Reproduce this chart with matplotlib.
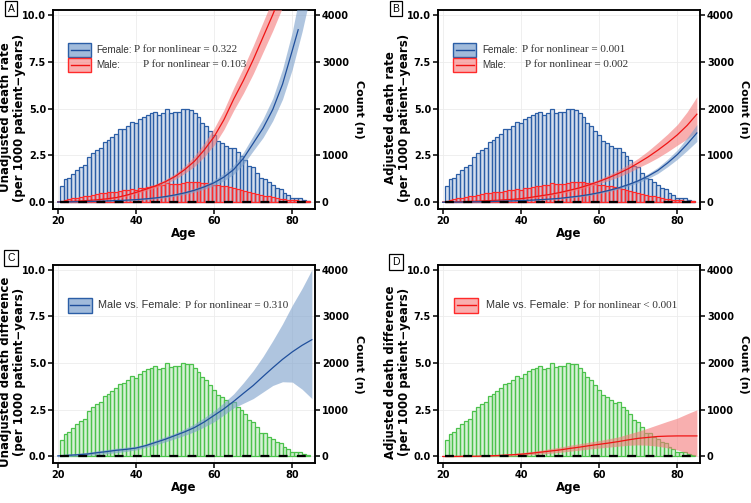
import numpy as np
import matplotlib
matplotlib.use('Agg')
import matplotlib.pyplot as plt
from matplotlib.patches import Rectangle
from matplotlib.lines import Line2D

plt.rcParams['font.family'] = ['DejaVu Sans']

# ---- histogram data (bars at ages 21..84) ----
bar_ages = list(range(21, 85))
count_all = [360, 490, 530, 600, 690, 750, 800, 970, 1050, 1120,
             1160, 1290, 1330, 1400, 1460, 1560, 1565, 1630, 1715, 1690,
             1770, 1830, 1865, 1900, 1930, 1870, 1895, 2000, 1915, 1930,
             1930, 2000, 1985, 1970, 1900, 1810, 1700, 1630, 1525, 1430,
             1310, 1275, 1205, 1150, 1160, 1065, 995, 900, 780, 745,
             625, 510, 495, 425, 375, 310, 285, 200, 155, 100,
             85, 85, 57, 28]
count_male = [35, 57, 70, 85, 100, 110, 140, 130, 163, 175,
              200, 200, 213, 220, 228, 248, 255, 270, 285, 270,
              305, 305, 320, 340, 340, 370, 370, 410, 397, 397,
              400, 411, 425, 440, 430, 425, 420, 411, 390, 369,
              362, 355, 340, 326, 305, 284, 270, 234, 215, 199,
              180, 163, 145, 128, 110, 92, 80, 71, 57, 50,
              42, 35, 28, 20]

# ---- curve data (read every 2.5 years) ----
ages = [20, 22.5, 25, 27.5, 30, 32.5, 35, 37.5, 40, 42.5, 45, 47.5, 50, 52.5,
        55, 57.5, 60, 62.5, 65, 67.5, 70, 72.5, 75, 77.5, 80, 82.5, 85]

# A: unadjusted rates
a_fem = [0.02, 0.03, 0.04, 0.05, 0.06, 0.08, 0.10, 0.12, 0.15, 0.19, 0.24, 0.31, 0.40, 0.51,
         0.65, 0.83, 1.05, 1.35, 1.75, 2.35, 3.15, 3.95, 4.95, 6.3, 8.1, 10.4, 13.0]
a_fem_hw = [0.02, 0.02, 0.02, 0.02, 0.03, 0.03, 0.03, 0.04, 0.04, 0.05, 0.05, 0.06, 0.07, 0.08,
            0.10, 0.12, 0.15, 0.2, 0.25, 0.32, 0.4, 0.5, 0.6, 0.8, 1.0, 1.3, 1.6]
a_fem_end = (81.5, 9.2)  # where the female line stops in the reference
a_male = [0.03, 0.05, 0.07, 0.10, 0.14, 0.19, 0.26, 0.38, 0.53, 0.70, 0.88, 1.10, 1.38, 1.75,
          2.2, 2.8, 3.5, 4.4, 5.5, 6.5, 7.6, 8.8, 10.0, 11.3, 12.6, 14.0, 15.5]
a_male_hw = [0.02, 0.02, 0.03, 0.03, 0.04, 0.04, 0.05, 0.05, 0.06, 0.08, 0.1, 0.12, 0.15, 0.2,
             0.28, 0.36, 0.45, 0.52, 0.6, 0.68, 0.75, 0.8, 0.85, 0.9, 0.95, 1.0, 1.05]

# B: adjusted rates
b_fem = [0.01, 0.015, 0.02, 0.03, 0.04, 0.05, 0.065, 0.08, 0.10, 0.12, 0.15, 0.18, 0.22, 0.28,
         0.34, 0.42, 0.52, 0.64, 0.78, 0.95, 1.15, 1.4, 1.7, 2.1, 2.55, 3.1, 3.7]
b_fem_hw = [0.01, 0.01, 0.01, 0.01, 0.02, 0.02, 0.02, 0.02, 0.02, 0.03, 0.03, 0.03, 0.03, 0.04,
            0.04, 0.05, 0.05, 0.06, 0.07, 0.08, 0.1, 0.13, 0.16, 0.2, 0.25, 0.34, 0.45]
b_male = [0.02, 0.03, 0.04, 0.06, 0.08, 0.10, 0.13, 0.16, 0.20, 0.27, 0.35, 0.43, 0.53, 0.65,
          0.78, 0.94, 1.12, 1.32, 1.55, 1.8, 2.1, 2.42, 2.78, 3.17, 3.6, 4.1, 4.7]
b_male_hw = [0.01, 0.01, 0.02, 0.02, 0.02, 0.03, 0.03, 0.04, 0.04, 0.05, 0.05, 0.06, 0.06, 0.08,
             0.09, 0.1, 0.12, 0.15, 0.19, 0.22, 0.25, 0.32, 0.4, 0.47, 0.55, 0.72, 0.93]

# C: unadjusted difference
c_diff = [0.03, 0.06, 0.09, 0.13, 0.2, 0.26, 0.33, 0.38, 0.45, 0.58, 0.75, 0.92, 1.12, 1.32,
          1.55, 1.85, 2.2, 2.55, 2.95, 3.38, 3.8, 4.28, 4.75, 5.2, 5.6, 5.95, 6.25]
c_lo = [-0.02, 0.0, 0.02, 0.05, 0.1, 0.15, 0.2, 0.27, 0.35, 0.48, 0.62, 0.78, 0.95, 1.13,
        1.33, 1.58, 1.86, 2.22, 2.6, 2.85, 3.1, 3.45, 3.8, 4.0, 3.98, 3.6, 3.1]
c_hi = [0.1, 0.13, 0.17, 0.22, 0.3, 0.37, 0.44, 0.5, 0.55, 0.68, 0.88, 1.06, 1.25, 1.48,
        1.75, 2.08, 2.45, 2.88, 3.35, 3.95, 4.6, 5.35, 6.2, 7.1, 8.1, 9.0, 10.0]

# D: adjusted difference
d_diff = [0.0, 0.0, 0.01, 0.01, 0.02, 0.04, 0.06, 0.09, 0.12, 0.17, 0.23, 0.29, 0.35, 0.43,
          0.5, 0.58, 0.65, 0.72, 0.8, 0.89, 0.97, 1.02, 1.07, 1.09, 1.1, 1.1, 1.1]
d_lo = [-0.02, -0.02, -0.02, -0.01, -0.01, 0.0, 0.01, 0.03, 0.05, 0.09, 0.13, 0.17, 0.22, 0.28,
        0.34, 0.4, 0.45, 0.5, 0.55, 0.6, 0.62, 0.6, 0.55, 0.46, 0.35, 0.18, 0.0]
d_hi = [0.02, 0.02, 0.03, 0.04, 0.05, 0.08, 0.11, 0.15, 0.2, 0.26, 0.33, 0.42, 0.5, 0.6,
        0.68, 0.77, 0.85, 0.95, 1.05, 1.2, 1.35, 1.52, 1.7, 1.88, 2.05, 2.28, 2.5]

p_text = {'A': ('0.322', '0.103'), 'B': ('0.001', '0.002'),
          'C': '= 0.310', 'D': '< 0.001'}

ylabels = {'A': 'Unadjusted death rate\n(per 1000 patient\u2212years)',
           'B': 'Adjusted death rate\n(per 1000 patient\u2212years)',
           'C': 'Unadjusted death difference\n(per 1000 patient\u2212years)',
           'D': 'Adjusted death difference\n(per 1000 patient\u2212years)'}

BLUE = '#1f4f9c'
BLUE_BAND = '#7b9fcb'
RED = '#f01414'
RED_BAND = '#f47a7a'
BAR_BLUE = '#2b5ea6'
BAR_RED = '#ff2a2a'
BAR_GREEN = '#4cc24c'
SANS = ['Liberation Sans', 'DejaVu Sans']
SERIF = ['Liberation Serif', 'DejaVu Serif']

W, H = 751, 503
fig = plt.figure(figsize=(W / 100, H / 100), dpi=100)

boxes = {'A': (53, 10, 315, 209), 'B': (438, 10, 700, 209),
         'C': (53, 265, 315, 463), 'D': (438, 265, 700, 463)}
letter_pos = {'A': (11, 8.5), 'B': (396, 8.5), 'C': (11, 258), 'D': (396, 262)}

ages_a = np.array(ages)


def setup(key):
    l, t, r, b = boxes[key]
    ax2 = fig.add_axes([l / W, 1 - b / H, (r - l) / W, (b - t) / H])
    ax = ax2.twinx()
    # twin on top so curves are drawn over the bars
    ax.yaxis.tick_left()
    ax.yaxis.set_label_position('left')
    ax2.yaxis.tick_right()
    ax2.yaxis.set_label_position('right')
    ax.set_xlim(18.8, 85.8)
    ax.set_ylim(-0.35, 10.25)
    ax2.set_ylim(-140, 4100)
    ax.set_yticks([0, 2.5, 5, 7.5, 10])
    ax.set_yticklabels(['0.0', '2.5', '5.0', '7.5', '10.0'])
    ax2.set_yticks([0, 1000, 2000, 3000, 4000])
    ax2.set_xticks([20, 40, 60, 80])
    ax2.grid(True, color='#ececec', linewidth=0.6)
    ax2.set_axisbelow(True)
    for a in (ax, ax2):
        for s in a.spines.values():
            s.set_linewidth(1.1)
        a.tick_params(direction='out', length=3.5, width=1.1, labelsize=7,
                      pad=1.5)
        for lab in a.get_xticklabels() + a.get_yticklabels():
            lab.set_fontweight('bold')
    ax.set_ylabel(ylabels[key], fontsize=8.5, fontweight='bold',
                  linespacing=1.1)
    ax.yaxis.set_label_coords(-0.103, 0.46)
    rl = ax2.set_ylabel('Count (n)', fontsize=8, fontweight='bold', rotation=270)
    ax2.yaxis.set_label_coords(1.168, 0.5)
    rl.set_ha('center')
    rl.set_va('center')
    ax2.set_xlabel('Age', fontsize=8.5, fontweight='bold', labelpad=1)
    x, y = letter_pos[key]
    fig.text(x / W, 1 - y / H, key, fontsize=7.5, ha='center', va='center',
             family=SANS,
             bbox=dict(boxstyle='square,pad=0.28', fc='white', ec='black', lw=0.9))
    return ax, ax2


def bars(ax2, counts, edge, fill):
    ax2.bar(bar_ages, counts, width=1.0, color=fill, edgecolor=edge,
            linewidth=0.9, zorder=2)


def band(ax, lo, hi, center, fc, lc, alpha, end=None):
    ax.fill_between(ages_a, lo, hi, color=fc, alpha=alpha, lw=0, zorder=3)
    cx = ages_a
    cy = np.array(center)
    if end is not None:
        m = cx < end[0]
        cx = np.append(cx[m], end[0])
        cy = np.append(cy[m], end[1])
    ax.plot(cx, cy, color=lc, lw=0.9, zorder=4)


def zero_line(ax):
    ax.plot([20.6, 84.5], [0, 0], color='black', lw=1.6, dashes=(4, 4.2), zorder=5)


def legend_key(ax, x0, y0, w, h, fc, ec, lc):
    ax.add_patch(Rectangle((x0, y0), w, h, transform=ax.transAxes, fc=fc,
                           ec=ec, lw=1.0, zorder=6, clip_on=False))
    ax.add_line(Line2D([x0 + 0.01, x0 + w - 0.01], [y0 + h / 2, y0 + h / 2],
                       transform=ax.transAxes, color=lc, lw=1.0, zorder=7))


KEY_BLUE = (0.48, 0.62, 0.8, 0.7)
KEY_RED = (0.96, 0.48, 0.48, 0.6)

# ---------- Panels A, B ----------
for key, fem, fhw, mal, mhw, fend in (
        ('A', a_fem, a_fem_hw, a_male, a_male_hw, a_fem_end),
        ('B', b_fem, b_fem_hw, b_male, b_male_hw, None)):
    ax, ax2 = setup(key)
    bars(ax2, count_all, BAR_BLUE, (0.17, 0.37, 0.65, 0.2))
    bars(ax2, count_male, BAR_RED, (1.0, 0.2, 0.2, 0.22))
    fem = np.array(fem); fhw = np.array(fhw)
    mal = np.array(mal); mhw = np.array(mhw)
    band(ax, mal - mhw, mal + mhw, mal, RED_BAND, RED, 0.6)
    band(ax, fem - fhw, fem + fhw, fem, BLUE_BAND, BLUE, 0.6, fend)
    zero_line(ax)
    x0 = 0.058
    legend_key(ax, x0, 0.764, 0.088, 0.072, KEY_BLUE, BAR_BLUE, BLUE)
    legend_key(ax, x0, 0.688, 0.088, 0.072, KEY_RED, BAR_RED, RED)
    tx = 0.165 if key == 'A' else 0.17
    px1 = 0.31 if key == 'A' else 0.319
    px2 = 0.3425 if key == 'A' else 0.332
    pf, pm = p_text[key]
    ax.text(tx, 0.80, 'Female:', transform=ax.transAxes, fontsize=7.1,
            va='center', family=SANS, color='#333333', zorder=8)
    ax.text(px1, 0.80, 'P for nonlinear = ' + pf, transform=ax.transAxes,
            fontsize=8, va='center', family=SERIF, color='#333333', zorder=8)
    ax.text(tx, 0.724, 'Male:', transform=ax.transAxes, fontsize=7.1,
            va='center', family=SANS, color='#333333', zorder=8)
    ax.text(px2, 0.724, 'P for nonlinear = ' + pm, transform=ax.transAxes,
            fontsize=8, va='center', family=SERIF, color='#333333', zorder=8)

# ---------- Panels C, D ----------
for key, cen, lo, hi, fc, lc, kx, tx, px in (
        ('C', c_diff, c_lo, c_hi, BLUE_BAND, BLUE, 0.056, 0.173, 0.504),
        ('D', d_diff, d_lo, d_hi, RED_BAND, RED, 0.062, 0.183, 0.520)):
    ax, ax2 = setup(key)
    bars(ax2, count_all, BAR_GREEN, (0.3, 0.76, 0.3, 0.22))
    band(ax, lo, hi, cen, fc, lc, 0.6)
    zero_line(ax)
    kfc = KEY_BLUE if key == 'C' else KEY_RED
    kec = BAR_BLUE if key == 'C' else BAR_RED
    legend_key(ax, kx, 0.757, 0.092, 0.078, kfc, kec, lc)
    ax.text(tx, 0.796, 'Male vs. Female:', transform=ax.transAxes, fontsize=7.8,
            va='center', family=SANS, color='#333333', zorder=8)
    ax.text(px, 0.796, 'P for nonlinear ' + p_text[key], transform=ax.transAxes,
            fontsize=8, va='center', family=SERIF, color='#333333', zorder=8)

fig.savefig('out.png', dpi=100)
